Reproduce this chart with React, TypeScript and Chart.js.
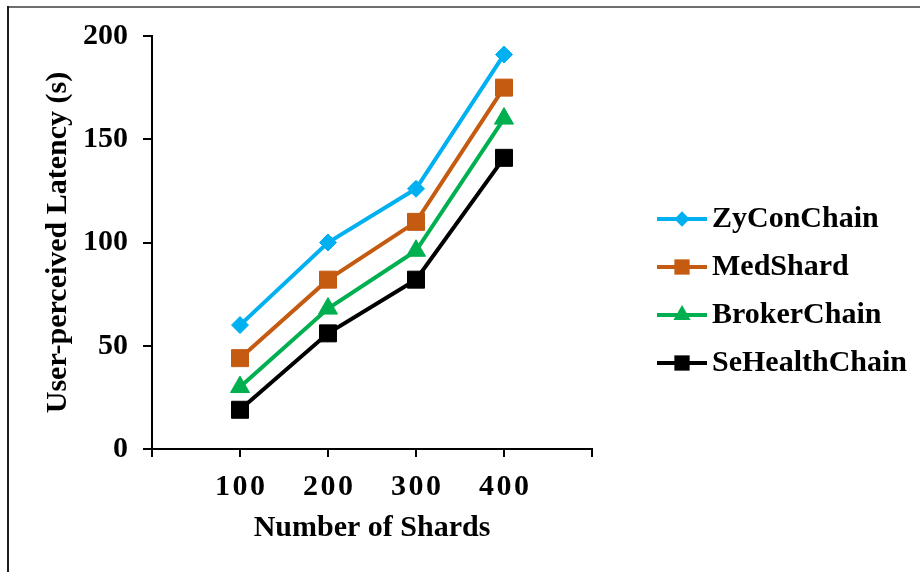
import React, { useEffect, useRef } from 'react';
import { Chart, registerables } from 'chart.js';

Chart.register(...registerables);

// Shard counts on the x axis and latency (s) per system
const shardCounts = [100, 200, 300, 400];
const zyConChain = [60, 100, 126, 191];
const medShard = [44, 82, 110, 175];
const brokerChain = [30, 68, 96, 160];
const seHealthChain = [19, 56, 82, 141];

const seriesNames = ['ZyConChain', 'MedShard', 'BrokerChain', 'SeHealthChain'];
const seriesValues = [zyConChain, medShard, brokerChain, seHealthChain];
const seriesColors = ['#00B0F0', '#C55A11', '#00B050', '#000000'];
const seriesMarkers = ['rectRot', 'rect', 'triangle', 'rect'];
const markerRadii = [8.5, 12, 11, 12];

const SERIF = '"Liberation Serif", "Times New Roman", serif';
const FONT_SIZE = 30;

function drawMarker(ctx: CanvasRenderingContext2D, style: string, x: number, y: number, r: number) {
  ctx.beginPath();
  if (style === 'rectRot') {
    ctx.moveTo(x - r, y);
    ctx.lineTo(x, y - r);
    ctx.lineTo(x + r, y);
    ctx.lineTo(x, y + r);
  } else if (style === 'triangle') {
    const h = r * Math.sin(Math.PI / 3);
    ctx.moveTo(x, y - r);
    ctx.lineTo(x - h, y + r / 2);
    ctx.lineTo(x + h, y + r / 2);
  } else {
    const s = r * Math.SQRT1_2;
    ctx.rect(x - s, y - s, 2 * s, 2 * s);
  }
  ctx.closePath();
  ctx.fill();
}

const framePlugin = {
  id: 'frame',
  beforeDraw(chart: any) {
    const { ctx, width, height } = chart;
    ctx.save();
    ctx.fillStyle = '#ffffff';
    ctx.fillRect(0, 0, width, height);
    ctx.fillStyle = '#6e6e6e';
    ctx.fillRect(7, 6, width - 7, 2);
    ctx.fillStyle = '#1c1c1c';
    ctx.fillRect(7, 6, 2, height - 6);
    ctx.restore();
  },
};

// x tick labels, placed by the x scale, drawn with a little letter spacing
const xLabelPlugin = {
  id: 'xLabels',
  afterDraw(chart: any) {
    const { ctx } = chart;
    const xs = chart.scales.x;
    ctx.save();
    ctx.font = `bold ${FONT_SIZE}px ${SERIF}`;
    ctx.fillStyle = '#000';
    ctx.textAlign = 'center';
    ctx.textBaseline = 'middle';
    (ctx as any).letterSpacing = '2.5px';
    shardCounts.forEach((v) => {
      ctx.fillText(String(v), xs.getPixelForValue(v) + 1.25, 487);
    });
    ctx.restore();
  },
};

const legendPlugin = {
  id: 'sideLegend',
  afterDraw(chart: any) {
    const { ctx } = chart;
    const lineX0 = 657;
    const lineX1 = 707;
    const textX = 712;
    const rowY0 = 219;
    const rowGap = 48;
    ctx.save();
    ctx.font = `bold ${FONT_SIZE}px ${SERIF}`;
    ctx.textAlign = 'left';
    ctx.textBaseline = 'middle';
    seriesNames.forEach((name, i) => {
      const y = rowY0 + i * rowGap;
      ctx.strokeStyle = seriesColors[i];
      ctx.fillStyle = seriesColors[i];
      ctx.lineWidth = 4;
      ctx.beginPath();
      ctx.moveTo(lineX0, y);
      ctx.lineTo(lineX1, y);
      ctx.stroke();
      drawMarker(ctx, seriesMarkers[i], (lineX0 + lineX1) / 2, y, markerRadii[i] * 0.9);
      ctx.fillStyle = '#000';
      ctx.fillText(name, textX, y);
    });
    ctx.restore();
  },
};

export default function App() {
  const canvasRef = useRef<HTMLCanvasElement | null>(null);

  useEffect(() => {
    const canvas = canvasRef.current;
    if (!canvas) return;

    const datasets = seriesNames.map((name, i) => ({
      label: name,
      data: shardCounts.map((x, j) => ({ x, y: seriesValues[i][j] })),
      borderColor: seriesColors[i],
      backgroundColor: seriesColors[i],
      pointBackgroundColor: seriesColors[i],
      pointBorderColor: seriesColors[i],
      pointBorderWidth: 1,
      pointStyle: seriesMarkers[i],
      pointRadius: markerRadii[i],
      borderWidth: 4,
      tension: 0,
      fill: false,
    }));

    const textFont = { family: SERIF, size: FONT_SIZE, weight: 'bold' as const };

    const chart = new Chart(canvas, {
      type: 'line',
      data: { datasets },
      plugins: [framePlugin, xLabelPlugin, legendPlugin],
      options: {
        animation: false,
        responsive: false,
        devicePixelRatio: 1,
        layout: { padding: { top: 36, right: 328, bottom: 0, left: 0 } },
        plugins: {
          legend: { display: false },
          tooltip: { enabled: false },
        },
        scales: {
          x: {
            type: 'linear',
            min: 0,
            max: 500,
            afterFit: (s: any) => {
              s.height = 123;
            },
            ticks: { stepSize: 100, display: false },
            grid: {
              drawOnChartArea: false,
              drawTicks: true,
              tickLength: 8,
              color: '#000',
              lineWidth: 2,
            },
            border: { display: true, color: '#000', width: 2 },
            title: {
              display: true,
              text: 'Number of Shards',
              color: '#000',
              font: textFont,
              padding: { top: 0, bottom: 26 },
            },
          },
          y: {
            type: 'linear',
            min: 0,
            max: 200,
            afterFit: (s: any) => {
              s.width = 152;
            },
            ticks: {
              stepSize: 50,
              color: '#000',
              font: textFont,
              padding: 15,
            },
            grid: {
              drawOnChartArea: false,
              drawTicks: true,
              tickLength: 9,
              color: '#000',
              lineWidth: 2,
            },
            border: { display: true, color: '#000', width: 2 },
            title: {
              display: true,
              text: 'User-perceived Latency (s)',
              color: '#000',
              font: textFont,
              padding: { top: 40, bottom: 0 },
            },
          },
        },
      },
    } as any);

    return () => chart.destroy();
  }, []);

  return (
    <div style={{ position: 'absolute', left: 0, top: 0, width: 920, height: 572, background: '#fff' }}>
      <canvas ref={canvasRef} width={920} height={572} style={{ display: 'block', width: 920, height: 572 }} />
    </div>
  );
}
